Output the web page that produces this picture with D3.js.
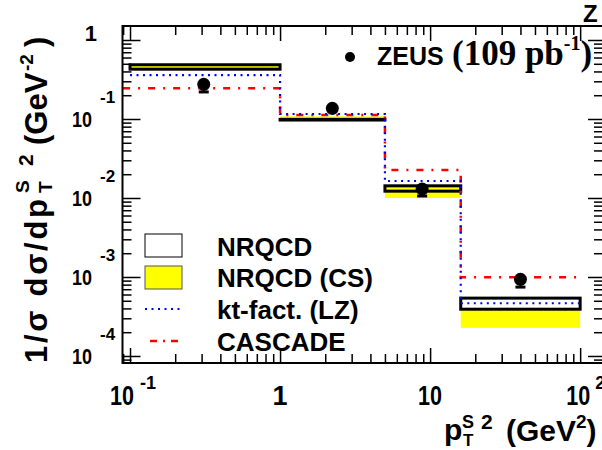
<!DOCTYPE html>
<html>
<head>
<meta charset="utf-8">
<script src="https://cdn.jsdelivr.net/npm/d3@7"></script>
<style>
  html, body { margin: 0; padding: 0; background: #fff; }
  svg { display: block; }
  text { font-family: "Liberation Sans", Arial, Helvetica, sans-serif; font-weight: bold; fill: #000; }
</style>
</head>
<body>
<svg id="chart" width="602" height="450"></svg>
<script>
// ---------------- data ----------------
const binEdges      = [0.1, 1, 5, 16, 100];
const cascadeEdges  = [0.09, 1, 5, 16, 100];
const nrqcdLow      = [0.427, 0.097, 0.0122, 3.91e-4];
const nrqcdHigh     = [0.486, 0.099, 0.01426, 5.4e-4];
const csLow         = [0.43, 0.098, 0.0100, 2.27e-4];
const csHigh        = [0.48, 0.108, 0.0142, 3.8e-4];
const ktValues      = [0.36, 0.1157, 0.0164, 4.65e-4];
const cascadeValues = [0.245, 0.112, 0.0226, 9.9e-4];
const zeusX         = [0.31, 2.23, 8.85, 40];
const zeusY         = [0.275, 0.1365, 0.013, 9.35e-4];
const zeusErr       = [0.055, 0.01, 0.0024, 1.9e-4];
const xMajorTicks   = [0.1, 1, 10, 100];
const xTickExps     = [-1, 0, 1, 2];
const yMajorTicks   = [1, 0.1, 0.01, 0.001, 0.0001];
const yTickExps     = [0, -1, -2, -3, -4];
const legendLabels  = ["NRQCD", "NRQCD (CS)", "kt-fact. (LZ)", "CASCADE"];

// ---------------- layout ----------------
const L = 122.5, R = 603, T = 26, B = 363;
const svg = d3.select("#chart");
const x = d3.scaleLog().domain([0.0891, 142]).range([L, R]);
const y = d3.scaleLog().domain([8.15e-5, 1.504]).range([B, T]);

const bins = d3.range(binEdges.length - 1).map(i => ({
  x0: binEdges[i], x1: binEdges[i + 1],
  nLo: nrqcdLow[i], nHi: nrqcdHigh[i], cLo: csLow[i], cHi: csHigh[i]
}));

const plot = svg.append("g");

// NRQCD white boxes
plot.selectAll("rect.nw").data(bins).join("rect")
  .attr("x", d => x(d.x0)).attr("width", d => x(d.x1) - x(d.x0))
  .attr("y", d => y(d.nHi)).attr("height", d => y(d.nLo) - y(d.nHi))
  .attr("fill", "#fff");
// CS yellow bands
plot.selectAll("rect.cs").data(bins).join("rect")
  .attr("x", d => x(d.x0)).attr("width", d => x(d.x1) - x(d.x0))
  .attr("y", d => y(d.cHi)).attr("height", d => y(d.cLo) - y(d.cHi))
  .attr("fill", "#ffff00");
// NRQCD outlines
plot.selectAll("rect.no").data(bins).join("rect")
  .attr("x", d => x(d.x0)).attr("width", d => x(d.x1) - x(d.x0))
  .attr("y", d => y(d.nHi)).attr("height", d => y(d.nLo) - y(d.nHi))
  .attr("fill", "none").attr("stroke", "#000").attr("stroke-width", 3);

function stepPoints(edges, vals) {
  const pts = [];
  vals.forEach((v, i) => { pts.push([edges[i], v]); pts.push([edges[i + 1], v]); });
  return pts;
}
const line = d3.line().x(d => x(d[0])).y(d => y(d[1]));

plot.append("path").datum(stepPoints(cascadeEdges, cascadeValues))
  .attr("d", line).attr("fill", "none").attr("stroke", "#ff0000")
  .attr("stroke-width", 2.5).attr("stroke-dasharray", "7,8,2,8");
plot.append("path").datum(stepPoints(binEdges, ktValues))
  .attr("d", line).attr("fill", "none").attr("stroke", "#0000ff")
  .attr("stroke-width", 2.2).attr("stroke-dasharray", "2,4.5");

// ZEUS data
const pts = zeusX.map((v, i) => ({ x: v, y: zeusY[i], e: zeusErr[i] }));
const pg = plot.selectAll("g.pt").data(pts).join("g");
pg.append("line").attr("x1", d => x(d.x)).attr("x2", d => x(d.x))
  .attr("y1", d => y(d.y + d.e)).attr("y2", d => y(d.y - d.e))
  .attr("stroke", "#000").attr("stroke-width", 2);
pg.append("line").attr("x1", d => x(d.x) - 5).attr("x2", d => x(d.x) + 5)
  .attr("y1", d => y(d.y - d.e)).attr("y2", d => y(d.y - d.e))
  .attr("stroke", "#000").attr("stroke-width", 3);
pg.append("circle").attr("cx", d => x(d.x)).attr("cy", d => y(d.y)).attr("r", 6.5).attr("fill", "#000");

// ---------------- axes / ticks ----------------
const xMinor = x.ticks().filter(v => !xMajorTicks.some(m => Math.abs(m - v) / m < 1e-6));
const yMinor = y.ticks().filter(v => !yMajorTicks.some(m => Math.abs(m - v) / m < 1e-6));

function tickAxis(gen, scale, vals, size, tr) {
  const g = svg.append("g").attr("transform", tr)
    .call(gen(scale).tickValues(vals).tickSize(-size).tickFormat(""));
  g.select(".domain").remove();
  g.selectAll(".tick line").attr("stroke", "#000").attr("stroke-width", 1.5);
}
tickAxis(d3.axisBottom, x, xMinor, 9, `translate(0,${B})`);
tickAxis(d3.axisBottom, x, xMajorTicks, 15, `translate(0,${B})`);
tickAxis(d3.axisTop, x, xMinor, 9, `translate(0,${T})`);
tickAxis(d3.axisTop, x, xMajorTicks, 15, `translate(0,${T})`);
tickAxis(d3.axisLeft, y, yMinor, 9, `translate(${L},0)`);
tickAxis(d3.axisLeft, y, yMajorTicks, 18, `translate(${L},0)`);
tickAxis(d3.axisRight, y, yMinor, 9, `translate(${R},0)`);
tickAxis(d3.axisRight, y, yMajorTicks, 15, `translate(${R},0)`);

svg.append("rect").attr("x", L).attr("y", T).attr("width", R - L).attr("height", B - T)
  .attr("fill", "none").attr("stroke", "#000").attr("stroke-width", 2);

// y tick labels
yMajorTicks.forEach((v, i) => {
  const yy = y(v);
  if (yTickExps[i] === 0) {
    svg.append("text").attr("x", 97).attr("y", yy + 1).attr("text-anchor", "end")
      .attr("font-size", 22).text("1");
  } else {
    svg.append("text").attr("x", 72).attr("y", yy + 8)
      .attr("font-size", 22).attr("textLength", 20).attr("lengthAdjust", "spacingAndGlyphs").text("10");
    svg.append("text").attr("x", 100).attr("y", yy - 16)
      .attr("font-size", 17).text(String(yTickExps[i]));
  }
});
// x tick labels
const xLabelDx  = [-20, 0, -12, -14];
const xExpDx    = [10, 0, 0, 15];
xMajorTicks.forEach((v, i) => {
  const xx = x(v);
  if (xTickExps[i] === 0) {
    svg.append("text").attr("x", xx).attr("y", 405).attr("text-anchor", "middle")
      .attr("font-size", 27).text("1");
  } else {
    svg.append("text").attr("x", xx + xLabelDx[i]).attr("y", 405)
      .attr("font-size", 27).attr("textLength", 24).attr("lengthAdjust", "spacingAndGlyphs").text("10");
    if (xTickExps[i] !== 1) {
      svg.append("text").attr("x", xx + xExpDx[i]).attr("y", 389)
        .attr("font-size", 18).text(String(xTickExps[i]));
    }
  }
});

// x title
const xt = svg.append("g");
xt.append("text").attr("x", 444).attr("y", 440).attr("font-size", 30).text("p");
xt.append("text").attr("x", 462).attr("y", 428).attr("font-size", 18).text("S");
xt.append("text").attr("x", 463).attr("y", 446).attr("font-size", 17).text("T");
xt.append("text").attr("x", 481).attr("y", 429).attr("font-size", 21).text("2");
const xtt = xt.append("text").attr("x", 506).attr("y", 441).attr("font-size", 30);
xtt.append("tspan").text("(GeV");
xtt.append("tspan").attr("font-size", 19).attr("dy", -13).text("2");
xtt.append("tspan").attr("dy", 13).text(")");

// y title (rotated)
const yt = svg.append("g").attr("transform", "translate(47,363) rotate(-90)");
yt.append("text").attr("x", 0).attr("y", 0).attr("font-size", 31)
  .attr("textLength", 164).attr("lengthAdjust", "spacing").text("1/\u03C3 d\u03C3/dp");
yt.append("text").attr("x", 170).attr("y", -18).attr("font-size", 19).text("S");
yt.append("text").attr("x", 170).attr("y", 5).attr("font-size", 19).text("T");
yt.append("text").attr("x", 197).attr("y", -14).attr("font-size", 21).text("2");
yt.append("text").attr("x", 218).attr("y", 0).attr("font-size", 31).text("(GeV");
yt.append("text").attr("x", 292).attr("y", -14).attr("font-size", 19).text("-2");
yt.append("text").attr("x", 316).attr("y", 0).attr("font-size", 31).text(")");

// legend
const lx0 = 145, lx1 = 182;
const rowY = [246, 277, 309, 341];
svg.append("rect").attr("x", lx0).attr("y", rowY[0] - 12).attr("width", lx1 - lx0).attr("height", 23)
  .attr("fill", "#fff").attr("stroke", "#000").attr("stroke-width", 1);
svg.append("rect").attr("x", lx0).attr("y", rowY[1] - 11).attr("width", lx1 - lx0).attr("height", 23)
  .attr("fill", "#ffff00").attr("stroke", "#555").attr("stroke-width", 1);
svg.append("line").attr("x1", lx0).attr("x2", lx1).attr("y1", rowY[2]).attr("y2", rowY[2])
  .attr("stroke", "#0000ff").attr("stroke-width", 2.2).attr("stroke-dasharray", "2,4.5");
svg.append("line").attr("x1", lx0 + 5).attr("x2", lx1).attr("y1", rowY[3]).attr("y2", rowY[3])
  .attr("stroke", "#ff0000").attr("stroke-width", 2.5).attr("stroke-dasharray", "7,6,2,6");
legendLabels.forEach((t, i) => {
  svg.append("text").attr("x", 217).attr("y", rowY[i] + 9.5).attr("font-size", 26).text(t);
});

// ZEUS label
svg.append("circle").attr("cx", 350).attr("cy", 57).attr("r", 5).attr("fill", "#000");
svg.append("text").attr("x", 377).attr("y", 65).attr("font-size", 25).text("ZEUS");
const zl = svg.append("text").attr("x", 452).attr("y", 65)
  .style("font-family", "'Liberation Serif', 'Times New Roman', serif").attr("font-size", 35);
zl.append("tspan").text("(109 pb");
zl.append("tspan").attr("font-size", 20).attr("dy", -15).text("-1");
zl.append("tspan").attr("dy", 15).text(")");

// cut-off label at top right
svg.append("text").attr("x", 583).attr("y", 22).attr("font-size", 24).text("Z");
</script>
</body>
</html>
